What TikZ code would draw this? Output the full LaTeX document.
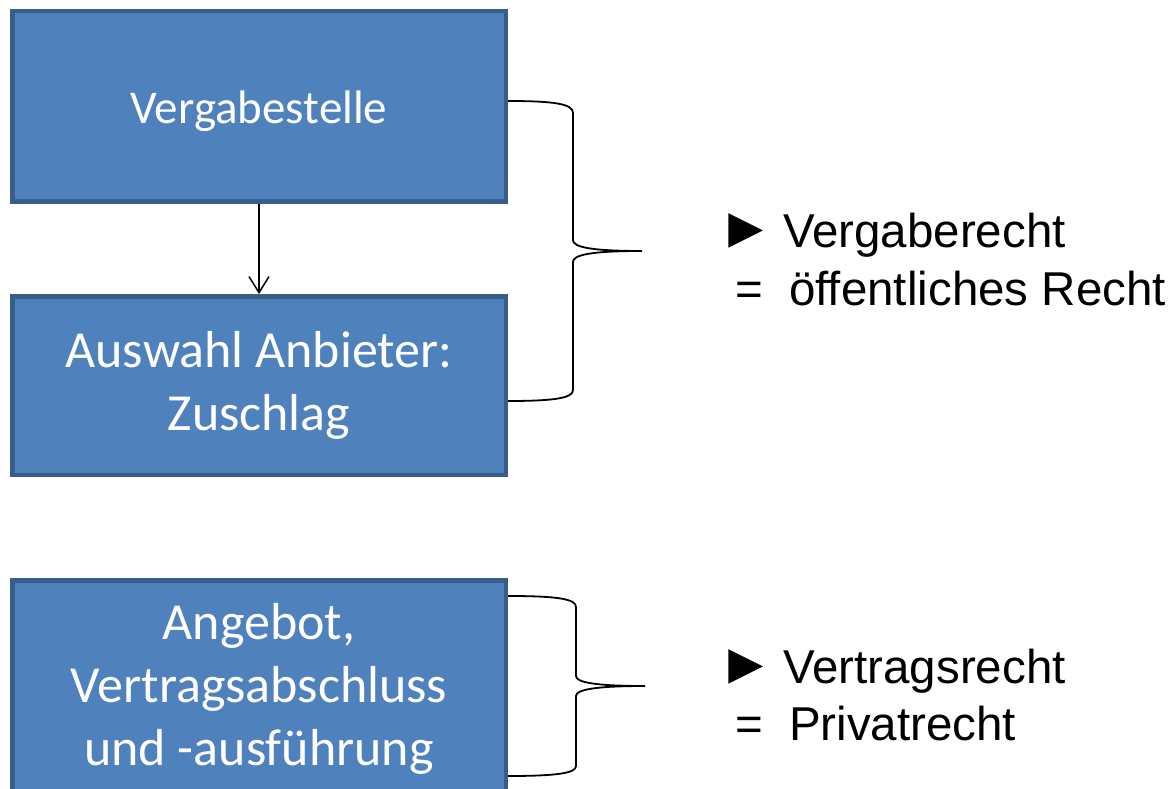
\documentclass[tikz,border=0pt]{standalone}
\usepackage{fontspec}
\setmainfont{Carlito}
\newfontfamily\arialf{Liberation Sans}
\usetikzlibrary{arrows.meta}
\definecolor{boxfill}{HTML}{4F81BD}
\definecolor{boxline}{HTML}{385D8A}
\newcommand{\bigptr}{{\fontsize{58}{58}\selectfont ►}}
\newcommand{\topstrut}{\rule{0pt}{\dimexpr 0.71em+8pt\relax}}
\begin{document}
\begin{tikzpicture}[x=1pt,y=-1pt,
  box/.style={draw=boxline, fill=boxfill, line width=4.5pt, inner sep=0pt,
    text=white, align=center, minimum width=493.5pt,
    font=\fontsize{52}{63}\selectfont, execute at begin node={\topstrut}},
  brace/.style={draw=black, line width=1.8pt},
  conn/.style={draw=black, line width=1.5pt, -{Straight Barb[length=16pt,width=20pt,line width=1.5pt]}},
  rtext/.style={anchor=base west, inner sep=0pt, font=\arialf\fontsize{47.5}{57}\selectfont}]
\useasboundingbox (0,0) rectangle (1176,789);
\clip (0,0) rectangle (1176,789);
\fill[white] (0,0) rectangle (1176,789);

\node[box, minimum height=190.5pt, font=\fontsize{47}{57}\selectfont] (b1) at (259,106.5) {Vergabestelle};
\node[box, minimum height=178.5pt] (b2) at (259,385.5) {Auswahl Anbieter:\\Zuschlag};
\node[box, minimum height=217.5pt] (b3) at (259,689) {Angebot,\\Vertragsabschluss\\und -ausführung};

\draw[conn] (b1.south) -- (b2.north);

\coordinate (s1t) at (508,101);
\coordinate (s1b) at (508,401);
\coordinate (s1m) at (642,251);
\draw[brace] (s1t) .. controls (555,101) and (573,104) .. (573,113) -- (573,240)
  .. controls (573,247) and (590,251) .. (s1m)
  .. controls (590,251) and (573,255) .. (573,262) -- (573,390)
  .. controls (573,398) and (555,401) .. (s1b);

\coordinate (s2t) at (508,596);
\coordinate (s2b) at (508,776);
\coordinate (s2m) at (645,686);
\draw[brace] (s2t) .. controls (558,596) and (576,599) .. (576,607) -- (576,676)
  .. controls (576,682) and (593,686) .. (s2m)
  .. controls (593,686) and (576,690) .. (576,696) -- (576,766)
  .. controls (576,773) and (558,776) .. (s2b);

\node[rtext] (r1) at (717,247) {\makebox[66pt][l]{\bigptr}Vergaberecht};
\node[rtext] (r2) at (727,305) {\makebox[62pt][l]{\hspace{8pt}=}öffentliches Recht};
\node[rtext] (r3) at (717,683) {\makebox[66pt][l]{\bigptr}Vertragsrecht};
\node[rtext] (r4) at (727,740) {\makebox[62pt][l]{\hspace{8pt}=}Privatrecht};
\end{tikzpicture}
\end{document}
